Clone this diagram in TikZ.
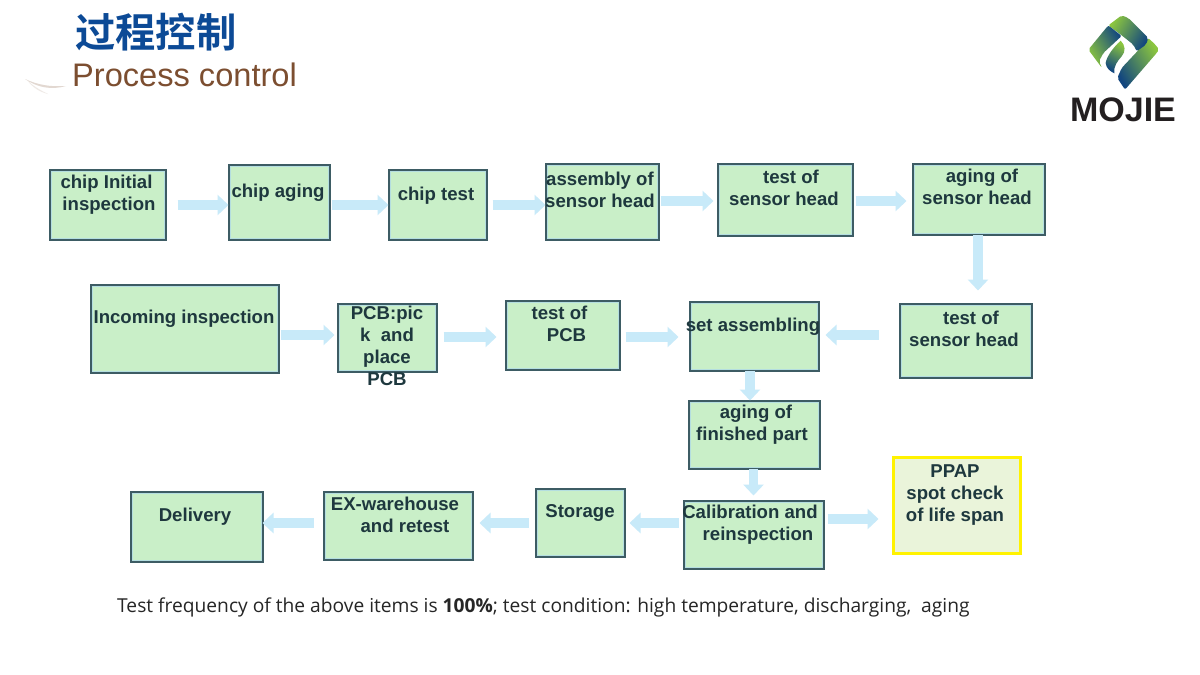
\documentclass[tikz,border=0pt]{standalone}
\usepackage{fontspec}
\usetikzlibrary{arrows.meta,calc}
\setmainfont{Liberation Sans}
\newfontfamily\cjkfont{Noto Sans CJK SC}[BoldFont={* Bold}]
\newfontfamily\notefont{Open Sans}
\definecolor{boxfill}{HTML}{C9EFC8}
\definecolor{boxedge}{HTML}{3D5C64}
\definecolor{boxrim}{HTML}{B4DEE0}
\definecolor{boxtext}{HTML}{1E383E}
\definecolor{flowc}{HTML}{C8EAF9}
\definecolor{titleblue}{HTML}{0C4A96}
\definecolor{titlebrown}{HTML}{7C4E30}
\definecolor{logoink}{HTML}{231F20}
\definecolor{lgreen}{HTML}{8CC63F}
\definecolor{lblue}{HTML}{12467F}
\definecolor{spotfill}{HTML}{EAF4DA}
\tikzset{
  x=1pt,y=-1pt,
  box/.style={draw=boxedge,fill=boxfill,line width=2pt,inner sep=0pt,outer sep=0pt,anchor=north west,
    path picture={\draw[boxrim,line width=4pt] (path picture bounding box.north west) rectangle (path picture bounding box.south east);}},
  spotbox/.style={draw=yellow,fill=spotfill,line width=2.6pt,inner sep=0pt,outer sep=0pt,anchor=north west},
  lbl/.style={font=\bfseries\fontsize{18.6}{22}\selectfont,text=boxtext,align=center,inner sep=0pt},
  flow/.style={draw=flowc,line width=9.5pt,-{Triangle[width=20pt,length=11pt,fill=flowc]}},
}
\newcommand{\boxat}[6][box]{\node[#1,minimum width=#4-#2-1,minimum height=#5-#3-1] (#6) at (#2+0.5,#3+0.5) {};}
\begin{document}
\begin{tikzpicture}
\useasboundingbox (0,0) rectangle (1200,675);
\fill[white] (0,0) rectangle (1200,675);
% feather
\fill[titlebrown!22] (25,79) .. controls (38,88) and (52,90) .. (66,86) .. controls (50,87) and (38,85) .. (25,79);
\fill[titlebrown!12] (27,80) .. controls (33,88) and (40,92) .. (48,94) .. controls (40,90) and (33,86) .. (27,80);
% title
\node[anchor=west,inner sep=0pt,text=titleblue,font=\cjkfont\bfseries\fontsize{40.3}{41}\selectfont] (title) at (75,32) {过程控制};
\node[anchor=west,inner sep=0pt,text=titlebrown,font=\fontsize{32.6}{35}\selectfont] (subtitle) at (72,75) {Process control};
% logo
\begin{scope}[shift={(1080,8)},x=0.3333pt,y=-0.3333pt]
\shade[left color=lblue,right color=lgreen,shading angle=120,rounded corners=2pt] (205,90) -- (228,112) -- (237,125) -- (230,135) -- (135,245) -- (112,210) -- (125,180) -- (172,130) -- cycle;
\shade[left color=lgreen,right color=lblue,shading angle=60,rounded corners=2pt] (85,52) -- (125,22) -- (145,30) -- (205,90) -- (198,110) -- (170,130) -- (160,110) -- (125,82) -- cycle;
\shade[left color=lgreen,right color=lblue,shading angle=120,rounded corners=2pt] (25,125) -- (85,52) -- (125,84) -- (70,135) -- (57,160) -- (66,180) -- cycle;
\shade[top color=lgreen,bottom color=lblue,shading angle=-30] (122,98) .. controls (136,112) and (138,130) .. (125,145) .. controls (112,160) and (100,175) .. (103,196) .. controls (90,190) and (78,180) .. (77,165) .. controls (80,145) and (100,118) .. (122,98) -- cycle;
\end{scope}
\node[anchor=base,inner sep=0pt,text=logoink,font=\bfseries\fontsize{34}{36}\selectfont] (brand) at (1123,121.5) {MOJIE};
% boxes
\boxat{49}{169}{166}{240}{b1}
\boxat{228}{164}{330}{240}{b2}
\boxat{388}{169}{487}{240}{b3}
\boxat{545}{163}{659}{240}{b4}
\boxat{717}{163}{853}{236}{b5}
\boxat{912}{163}{1045}{235}{b6}
\boxat{899}{303}{1032}{378}{b7}
\boxat{689}{301}{819}{371}{b8}
\boxat{505}{300}{620}{370}{b9}
\boxat{337}{303}{437}{372}{b10}
\boxat{90}{284}{279}{373}{b11}
\boxat{688}{400}{820}{469}{b12}
\boxat{683}{500}{824}{569}{b13}
\boxat[spotbox]{893}{457}{1021}{554}{b14}
\boxat{535}{488}{625}{557}{b15}
\boxat{323}{491}{473}{560}{b16}
\boxat{130}{491}{263}{562}{b17}
% labels
\node[lbl] (t1) at (109,195) {chip Initial\hspace*{5pt}\\ inspection};
\node[lbl] (t2) at (278,193) {chip aging};
\node[lbl] (t3) at (436,196) {chip test};
\node[lbl] (t4) at (600,190) {assembly of\\sensor head};
\node[lbl] (t5) at (784,188) {\hspace*{14pt}test of\\sensor head};
\node[lbl] (t6) at (977,187) {\hspace*{10pt}aging of\\sensor head};
\node[lbl] (t7) at (964,329) {\hspace*{14pt}test of\\sensor head};
\node[lbl] (t8) at (753,327) {set assembling};
\node[lbl] (t9) at (563,324) {test of\hspace*{7pt}\\\hspace*{7pt}PCB};
\node[lbl] (t10) at (387,346) {PCB:pic\\k~ and\\place\\PCB};
\node[lbl] (t11) at (184,319) {Incoming inspection};
\node[lbl] (t12) at (752,425) {\hspace*{8pt}aging of\\finished part};
\node[lbl] (t13) at (750,525) {Calibration and\\\hspace*{16pt}reinspection};
\node[lbl] (t14) at (955,495.5) {PPAP\\spot check\\of life span};
\node[lbl] (t15) at (580,513) {Storage};
\node[lbl] (t16) at (395,515) {EX-warehouse\\\hspace*{20pt}and retest};
\node[lbl] (t17) at (195,517) {Delivery};
% lanes that the connectors run along
\coordinate (l1) at (0,205);
\coordinate (l2) at (0,201);
\coordinate (l3) at (0,335);
\coordinate (l4) at (0,337);
\coordinate (l5) at (0,519);
\coordinate (l6) at (0,523);
\coordinate (v1) at (978,0);
\coordinate (v2) at (750,0);
\coordinate (v3) at (753.5,0);
% connectors
\draw[flow] ([xshift=12pt]b1.east |- l1) -- (b2.west |- l1);
\draw[flow] ([xshift=2pt]b2.east |- l1) -- (b3.west |- l1);
\draw[flow] ([xshift=6pt]b3.east |- l1) -- (b4.west |- l1);
\draw[flow] ([xshift=2pt]b4.east |- l2) -- ([xshift=-4pt]b5.west |- l2);
\draw[flow] ([xshift=3pt]b5.east |- l2) -- ([xshift=-6pt]b6.west |- l2);
\draw[flow] (v1 |- b6.south) -- ([yshift=13pt]v1 |- b7.north);
\draw[flow] ([xshift=2pt]b11.east |- l3) -- ([xshift=-3pt]b10.west |- l3);
\draw[flow] ([xshift=7pt]b10.east |- l4) -- ([xshift=-9pt]b9.west |- l4);
\draw[flow] ([xshift=6pt]b9.east |- l4) -- ([xshift=-11pt]b8.west |- l4);
\draw[flow] ([xshift=-21pt]b7.west |- l3) -- ([xshift=7pt]b8.east |- l3);
\draw[flow] (v2 |- b8.south) -- (v2 |- b12.north);
\draw[flow] (v3 |- b12.south) -- ([yshift=5pt]v3 |- b13.north);
\draw[flow] ([xshift=4pt]b13.east |- l5) -- ([xshift=-15pt]b14.west |- l5);
\draw[flow] ([xshift=-5pt]b13.west |- l6) -- ([xshift=5pt]b15.east |- l6);
\draw[flow] ([xshift=-7pt]b15.west |- l6) -- ([xshift=7pt]b16.east |- l6);
\draw[flow] ([xshift=-10pt]b16.west |- l6) -- (b17.east |- l6);
% note
\node[anchor=base west,inner sep=0pt,text=black!85,font=\notefont\fontsize{19.2}{22}\selectfont] (note) at (117,612) {Test frequency of the above items is \textbf{100\%}; test condition: high temperature, discharging,~ aging};
\end{tikzpicture}
\end{document}
